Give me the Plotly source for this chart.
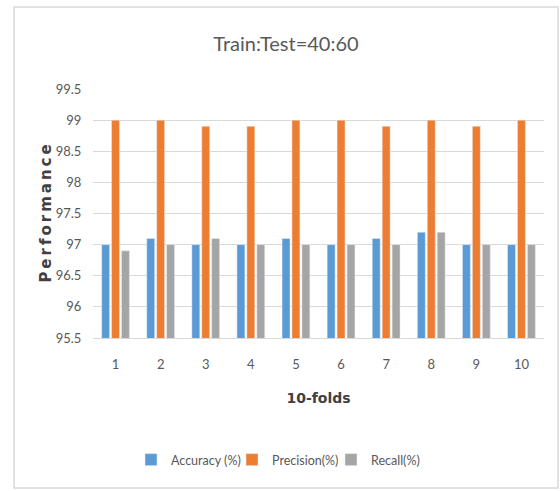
import plotly.graph_objects as go

folds = ["1", "2", "3", "4", "5", "6", "7", "8", "9", "10"]
accuracy = [97.0, 97.1, 97.0, 97.0, 97.1, 97.0, 97.1, 97.2, 97.0, 97.0]
precision = [99.0, 99.0, 98.9, 98.9, 99.0, 99.0, 98.9, 99.0, 98.9, 99.0]
recall = [96.9, 97.0, 97.1, 97.0, 97.0, 97.0, 97.0, 97.2, 97.0, 97.0]
y_ticks = [95.5, 96, 96.5, 97, 97.5, 98, 98.5, 99, 99.5]

FONT = "Lato, 'Open Sans', sans-serif"
TS = "\u2009"

fig = go.Figure()
fig.add_bar(x=folds, y=accuracy, name="Accuracy (%)", marker_color="#5B9BD5", legend="legend")
fig.add_bar(x=folds, y=precision, name="Precision(%)", marker_color="#ED7D31", legend="legend2")
fig.add_bar(x=folds, y=recall, name="Recall(%)", marker_color="#A5A5A5", legend="legend3")

def leg(xpx):
    return dict(orientation="h", x=(xpx - 93) / 451, xanchor="left", y=-0.49, yanchor="middle",
                font=dict(family=FONT, size=12.5, color="#595959"),
                itemwidth=30, bgcolor="rgba(0,0,0,0)")

fig.update_layout(
    width=560, height=491,
    margin=dict(l=93, r=16, t=89, b=153),
    paper_bgcolor="white", plot_bgcolor="white",
    barmode="group", bargap=0.34, bargroupgap=0.2,
    font=dict(family=FONT, size=13, color="#595959"),
    title=dict(text="Train:Test=40:60", x=(286 - 93) / 451, xanchor="center",
               y=1 - 44 / 491, yanchor="middle", xref="paper",
               font=dict(family=FONT, size=20, color="#595959")),
    showlegend=True,
    legend=leg(131), legend2=leg(232), legend3=leg(331),
    xaxis=dict(
        showgrid=False, showline=True, linecolor="#d9d9d9", linewidth=1,
        ticks="outside", ticklen=14, tickcolor="rgba(0,0,0,0)",
        tickfont=dict(size=13),
        title=dict(text="<b>10-folds</b>", standoff=22,
                   font=dict(family="DejaVu Sans, sans-serif", size=14, color="#404040")),
    ),
    yaxis=dict(
        range=[95.5, 99.5], tickvals=y_ticks, ticktext=[str(v) for v in y_ticks],
        showgrid=True, gridcolor="#d9d9d9", gridwidth=1, zeroline=False,
        ticks="outside", ticklen=8, tickcolor="rgba(0,0,0,0)",
        tickfont=dict(size=13),
        title=dict(text="<b>" + TS.join("Performance") + "</b>", standoff=0,
                   font=dict(family="DejaVu Sans, sans-serif", size=15, color="#404040")),
    ),
    shapes=[dict(type="rect", xref="paper", yref="paper",
                 x0=-0.175, x1=1.031, y0=-0.602, y1=1.329,
                 line=dict(color="#d9d9d9", width=1.5), fillcolor="rgba(0,0,0,0)", layer="below")],
)

fig.write_html("out.html", config={"displayModeBar": False},
               post_script="document.body.style.margin='0';")
